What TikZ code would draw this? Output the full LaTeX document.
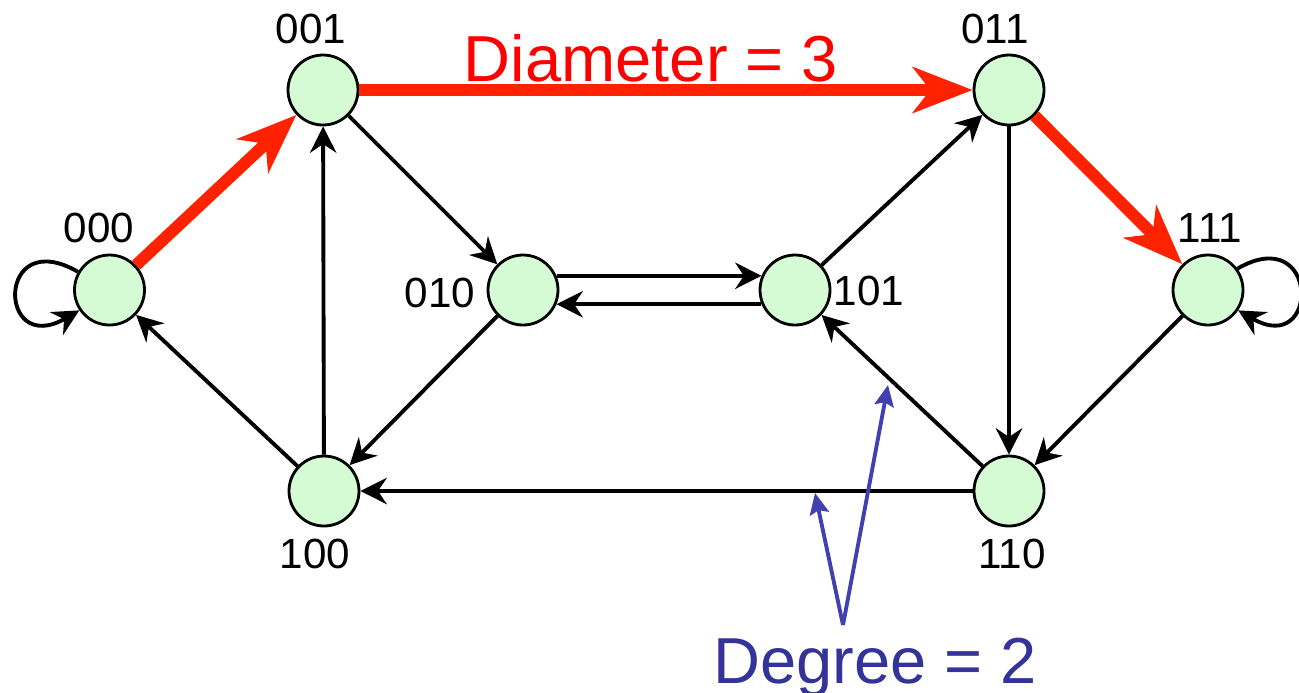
\documentclass[tikz,border=0pt]{standalone}
\usepackage{fontspec}
\setmainfont{Liberation Sans}
\usetikzlibrary{arrows.meta}
\definecolor{hgreen}{RGB}{212, 251, 212}
\definecolor{hred}{RGB}{255, 34, 0}
\definecolor{htext}{RGB}{255, 0, 0}
\definecolor{hblue}{RGB}{51, 51, 153}
\definecolor{hline}{RGB}{64, 64, 176}

\begin{document}
\begin{tikzpicture}[
    state/.style={draw, circle, fill=hgreen, line width=0.8pt, minimum size=0.70cm, inner sep=0pt},
    tag/.style={anchor=base, inner sep=0pt, font=\fontsize{12}{14}\selectfont},
    big/.style={anchor=base, inner sep=0pt, font=\fontsize{18.5}{22}\selectfont},
    edge/.style={line width=1.1pt, -{Stealth[length=7.5pt, width=7.5pt, inset=2.5pt]}},
    diam/.style={draw=hred, color=hred, line width=3.4pt, -{Stealth[length=17pt, width=13pt, inset=5pt]}},
    pointer/.style={draw=hline, color=hline, line width=1.1pt, -{Stealth[length=6pt, width=5.5pt, inset=1pt]}},
]
    \useasboundingbox (0,0) rectangle (12.99,-6.92);

    % States
    \node[state] (n000) at (1.095,-2.90) {};
    \node[state] (n001) at (3.23,-0.90) {};
    \node[state] (n010) at (5.23,-2.90) {};
    \node[state] (n101) at (7.95,-2.90) {};
    \node[state] (n011) at (10.09,-0.90) {};
    \node[state] (n111) at (12.08,-2.90) {};
    \node[state] (n100) at (3.24,-4.91) {};
    \node[state] (n110) at (10.09,-4.91) {};

    % State labels
    \node[tag] (t000) at (0.99,-2.42) {000};
    \node[tag] (t001) at (3.11,-0.43) {001};
    \node[tag] (t011) at (9.95,-0.43) {011};
    \node[tag] (t111) at (12.10,-2.42) {111};
    \node[tag] (t010) at (4.40,-3.07) {010};
    \node[tag] (t101) at (8.69,-3.05) {101};
    \node[tag] (t100) at (3.15,-5.68) {100};
    \node[tag] (t110) at (10.12,-5.68) {110};

    % Shifts
    \draw[edge] (n000.150) .. controls +(150:0.95) and +(210:0.95) .. (n000.214);
    \draw[edge] (n111.36) .. controls +(30:0.95) and +(-30:0.95) .. (n111.-34);
    \draw[edge] (n001) -- (n010);
    \draw[edge] (n100) -- (n001);
    \draw[edge] (n100) -- (n000);
    \draw[edge] (n010) -- (n100);
    \draw[edge] (n010.23) -- (n101.157);
    \draw[edge] (n101.203) -- (n010.-23);
    \draw[edge] (n101) -- (n011);
    \draw[edge] (n011) -- (n110);
    \draw[edge] (n111) -- (n110);
    \draw[edge] (n110) -- (n101);
    \draw[edge] (n110) -- (n100);

    % Diameter path
    \draw[diam] (n000) -- (n001);
    \draw[diam] (n001) -- (n011);
    \draw[diam] (n011) -- (n111);
    \node[big, text=htext] (diamtext) at (6.51,-0.81) {Diameter = 3};

    % Degree
    \coordinate (degfoot) at (8.43,-6.25);
    \coordinate (degtipa) at (8.15,-4.93);
    \coordinate (degtipb) at (8.88,-3.85);
    \draw[pointer] (degfoot) -- (degtipa);
    \draw[pointer] (degfoot) -- (degtipb);
    \node[big, text=hblue] (degtext) at (8.75,-6.83) {Degree = 2};
\end{tikzpicture}
\end{document}
